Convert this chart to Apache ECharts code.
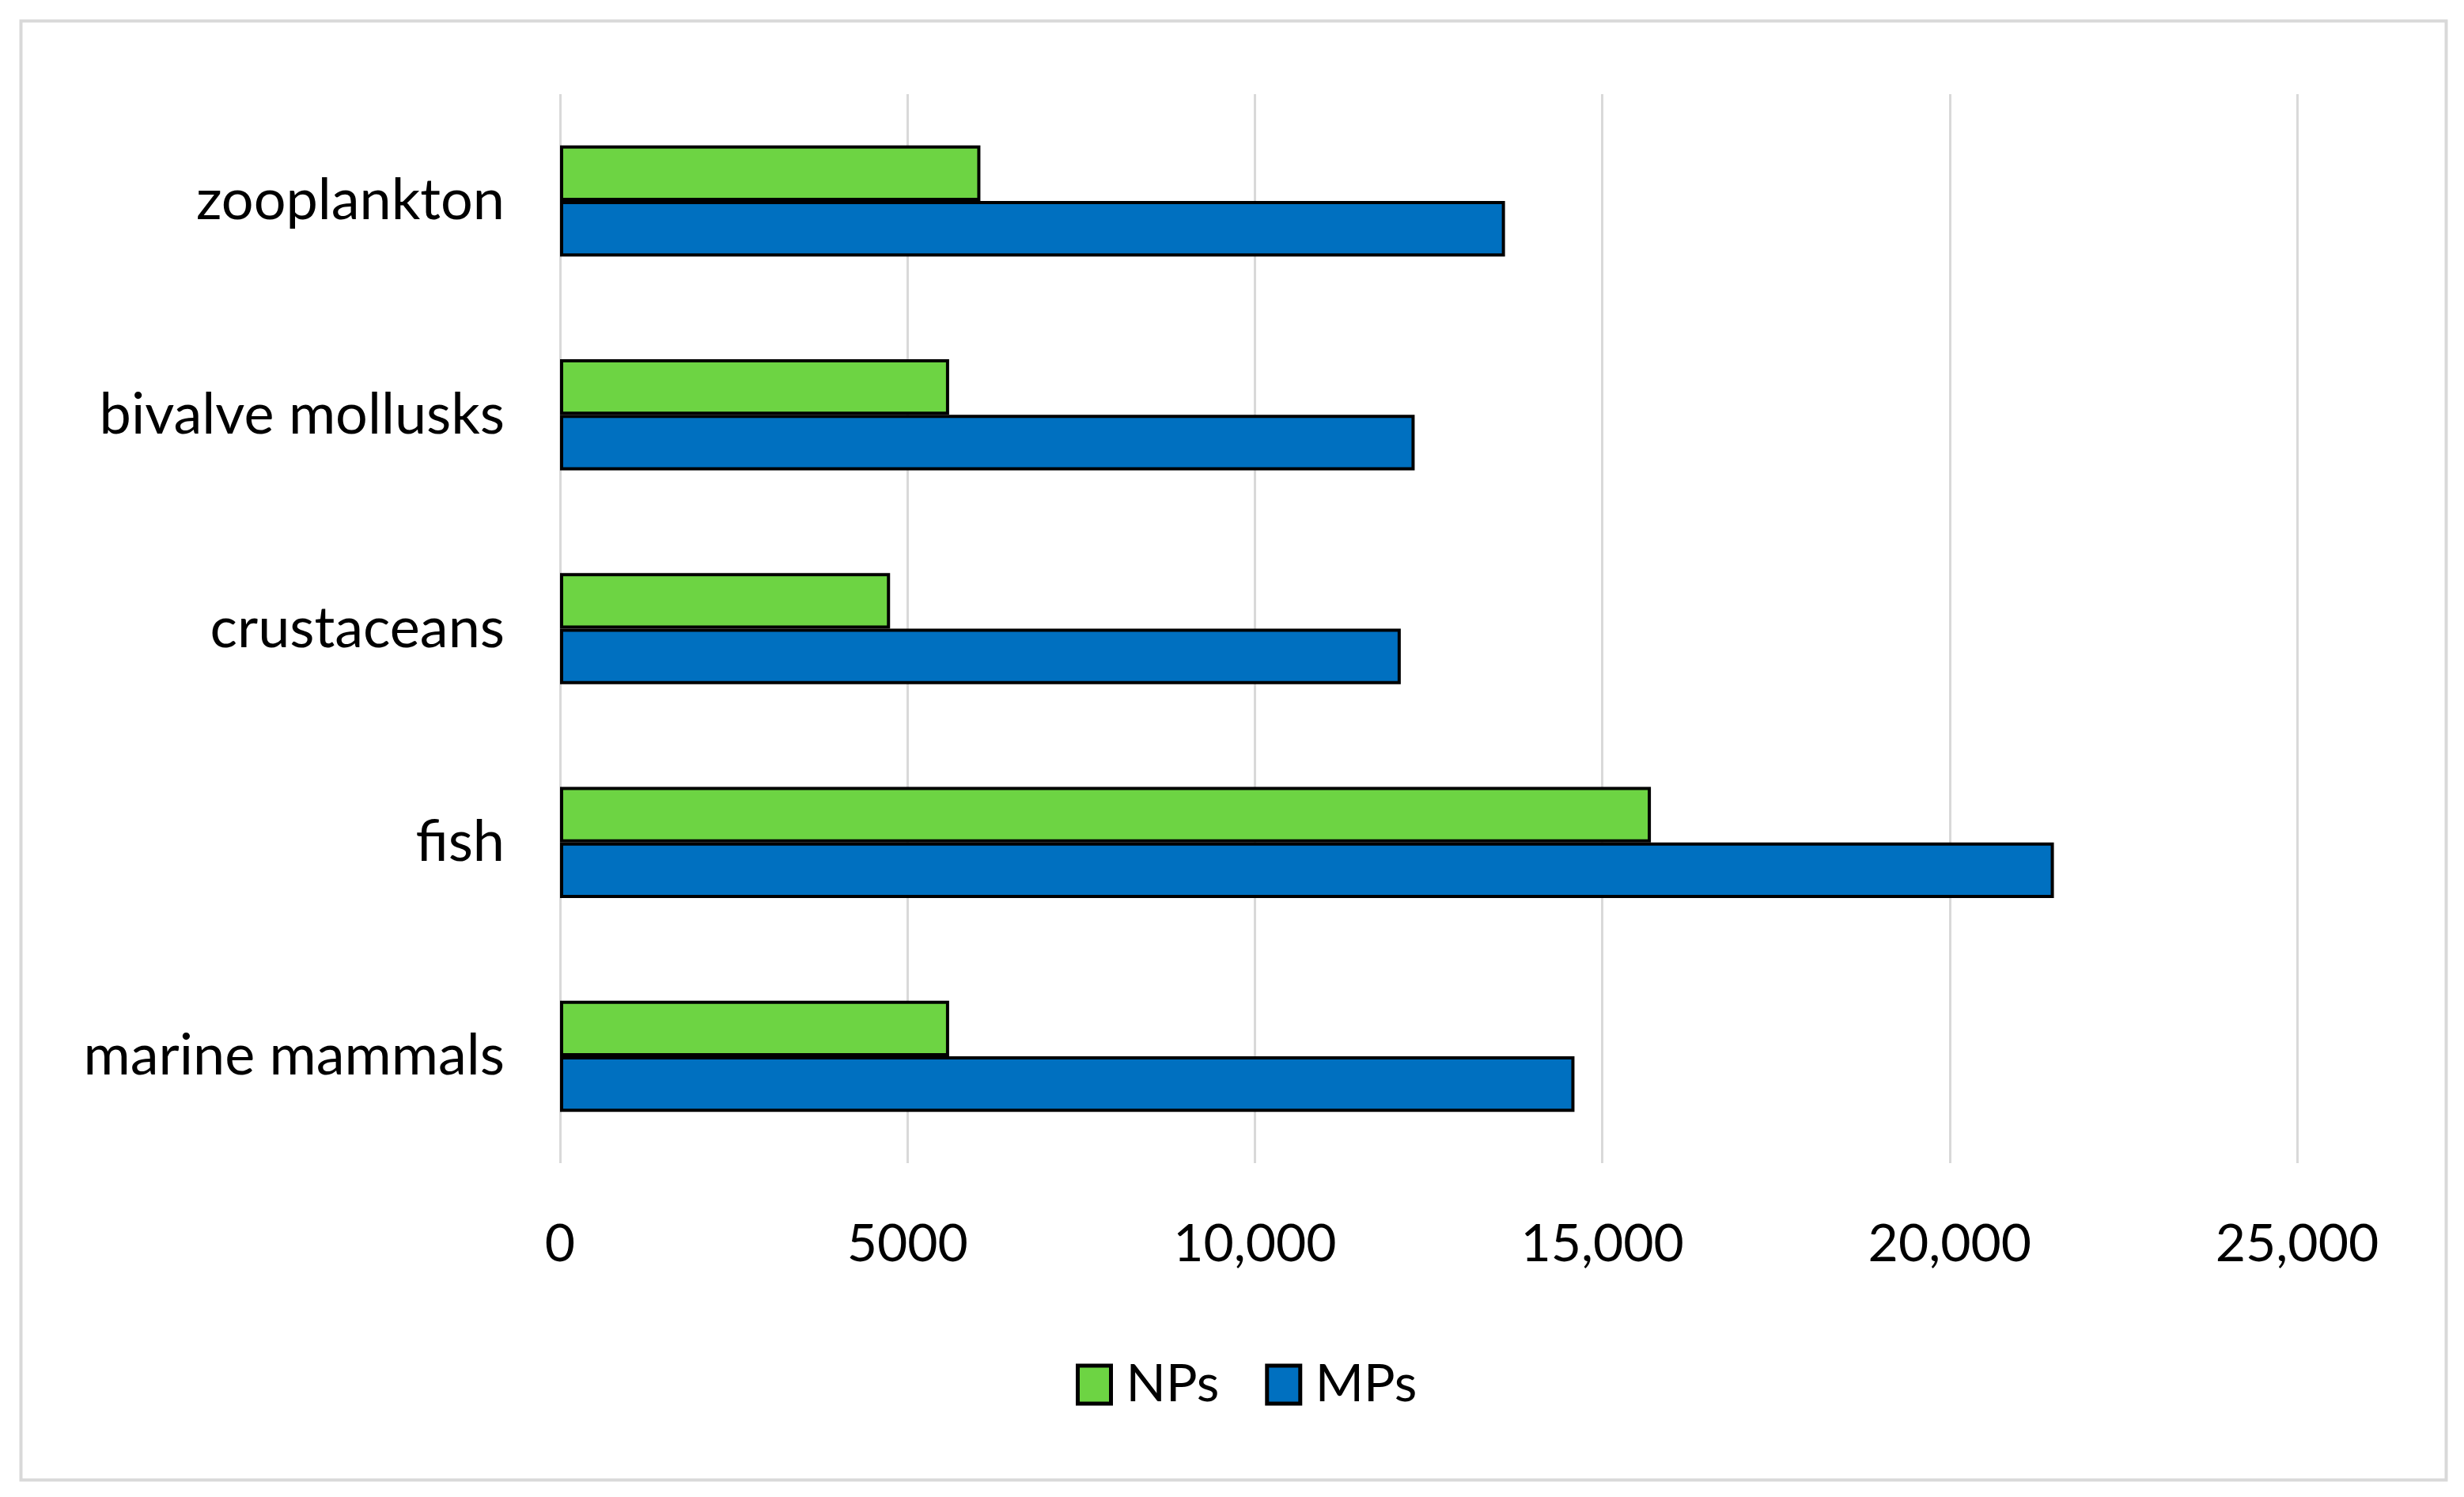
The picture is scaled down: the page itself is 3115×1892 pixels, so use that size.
<!DOCTYPE html>
<html>
<head>
<meta charset="utf-8">
<script src="https://cdn.jsdelivr.net/npm/echarts@6/dist/echarts.min.js"></script>
<style>
html,body{margin:0;padding:0;background:#fff;}
#chart{width:3115px;height:1892px;}
</style>
</head>
<body>
<div id="chart"></div>
<script>
var categories = ['marine mammals', 'fish', 'crustaceans', 'bivalve mollusks', 'zooplankton'];
var npsValues = [5600, 15700, 4750, 5600, 6050];
var mpsValues = [14600, 21500, 12100, 12300, 13600];
var xTickLabels = {0: '0', 5000: '5000', 10000: '10,000', 15000: '15,000', 20000: '20,000', 25000: '25,000'};

var chart = echarts.init(document.getElementById('chart'));
var font = 'Lato, "Open Sans", sans-serif';
chart.setOption({
  backgroundColor: '#ffffff',
  animation: false,
  graphic: [{
    type: 'rect',
    left: 24, top: 24,
    shape: {width: 3066, height: 1844},
    style: {fill: 'none', stroke: '#d9d9d9', lineWidth: 4}
  }],
  grid: {left: 708, right: 211, top: 119, bottom: 422, containLabel: false},
  legend: {
    data: ['NPs', 'MPs'],
    left: 1355, top: 1712,
    itemWidth: 42, itemHeight: 48,
    itemGap: 58,
    icon: 'rect',
    itemStyle: {borderWidth: 5, borderColor: '#000'},
    textStyle: {fontFamily: font, fontSize: 66, color: '#000', padding: [0, 0, 0, 14]}
  },
  xAxis: {
    type: 'value', min: 0, max: 25000, interval: 5000,
    axisLine: {show: false}, axisTick: {show: false},
    splitLine: {show: true, lineStyle: {color: '#d9d9d9', width: 3}},
    axisLabel: {fontFamily: font, fontSize: 66, color: '#000', margin: 70,
      formatter: function (v) { return xTickLabels[v] !== undefined ? xTickLabels[v] : String(v); }}
  },
  yAxis: {
    type: 'category', data: categories,
    axisLine: {show: false}, axisTick: {show: false},
    axisLabel: {fontFamily: font, fontSize: 72, color: '#000', margin: 70}
  },
  series: [
    {name: 'NPs', type: 'bar', data: npsValues, barGap: '0%', barCategoryGap: '48%',
     itemStyle: {color: '#6dd443', borderColor: '#000', borderWidth: 4}},
    {name: 'MPs', type: 'bar', data: mpsValues, barGap: '0%', barCategoryGap: '48%',
     itemStyle: {color: '#0070c0', borderColor: '#000', borderWidth: 4}}
  ]
});
</script>
</body>
</html>
